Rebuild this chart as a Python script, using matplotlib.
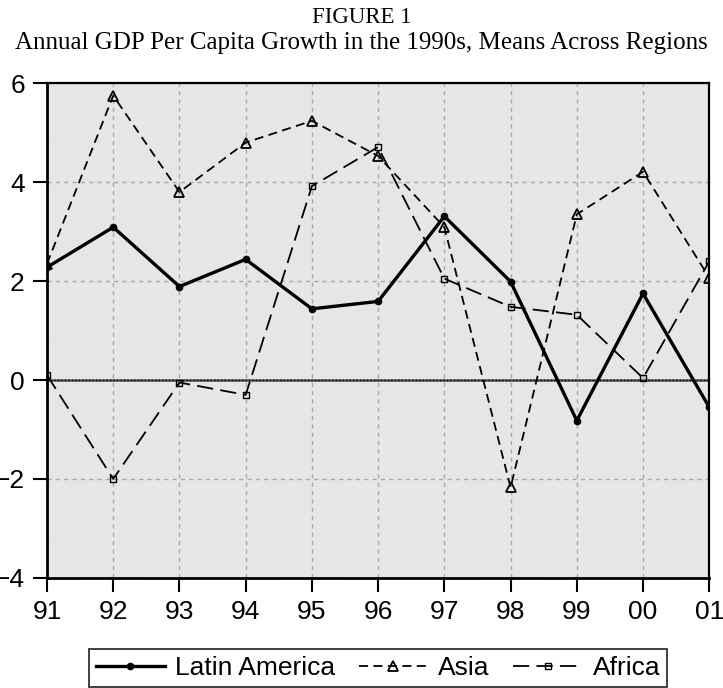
import matplotlib.pyplot as plt

# Annual GDP per capita growth (%), 1991-2001
years = ["91", "92", "93", "94", "95", "96", "97", "98", "99", "00", "01"]
latin_america = [2.28, 3.09, 1.89, 2.44, 1.44, 1.59, 3.31, 1.99, -0.82, 1.75, -0.55]
asia = [2.35, 5.75, 3.80, 4.80, 5.24, 4.53, 3.09, -2.17, 3.35, 4.21, 2.07]
africa = [0.10, -2.00, -0.05, -0.30, 3.92, 4.71, 2.05, 1.48, 1.32, 0.04, 2.40]

fig = plt.figure(figsize=(7.23, 6.88), dpi=100)
ax = fig.add_axes([0.065, 0.160, 0.916, 0.719])
ax.set_facecolor("#e6e6e6")

x = list(range(len(years)))

ax.plot(x, latin_america, color="black", linewidth=2.4, marker="o",
        markersize=4.5, label="Latin America", zorder=5)
ax.plot(x, asia, color="black", linewidth=1.3, linestyle=(0, (5, 3)),
        marker="^", markersize=7.5, markerfacecolor="none",
        markeredgewidth=1.3, label="Asia", zorder=4)
ax.plot(x, africa, color="black", linewidth=1.3, linestyle=(0, (9, 4)),
        marker="s", markersize=4, markerfacecolor="none",
        markeredgewidth=1.0, label="Africa", zorder=4)

# zero reference line
ax.axhline(0, color="#555555", linewidth=1.8, zorder=2)
ax.axhline(0, color="black", linewidth=1.0, linestyle=(0, (1, 1.5)), zorder=2)

ax.set_xlim(0, len(years) - 1)
ax.set_ylim(-4, 6)
ax.set_xticks(x)
ax.set_xticklabels(years)
ax.set_yticks([-4, -2, 0, 2, 4, 6])
ax.set_yticklabels(["\u22124", "\u22122", "0", "2", "4", "6"])

ax.grid(True, color="#a8a8a8", linestyle=(0, (3, 3)), linewidth=1.0)
ax.set_axisbelow(True)

for side in ["left", "bottom"]:
    ax.spines[side].set_linewidth(2.0)
for side in ["top", "right"]:
    ax.spines[side].set_linewidth(1.6)

ax.tick_params(axis="both", direction="out", length=10, width=1.5,
               labelsize=19, pad=6)
for lab in ax.get_xticklabels() + ax.get_yticklabels():
    lab.set_fontfamily("Liberation Sans")

fig.text(0.5, 0.975, "FIGURE 1", ha="center", va="center",
         fontsize=16.5, family="Liberation Serif")
fig.text(0.5, 0.938, "Annual GDP Per Capita Growth in the 1990s, Means Across Regions",
         ha="center", va="center", fontsize=18, family="Liberation Serif")

leg = fig.legend(loc="lower center", bbox_to_anchor=(0.523, 0.0), ncol=3,
                 frameon=True, fancybox=False, edgecolor="black",
                 prop={"family": "Liberation Sans", "size": 19},
                 handlelength=2.6, columnspacing=0.9, handletextpad=0.4,
                 borderpad=0.25, borderaxespad=0.05)
leg.get_frame().set_linewidth(1.3)

fig.savefig("out.png", dpi=100)
